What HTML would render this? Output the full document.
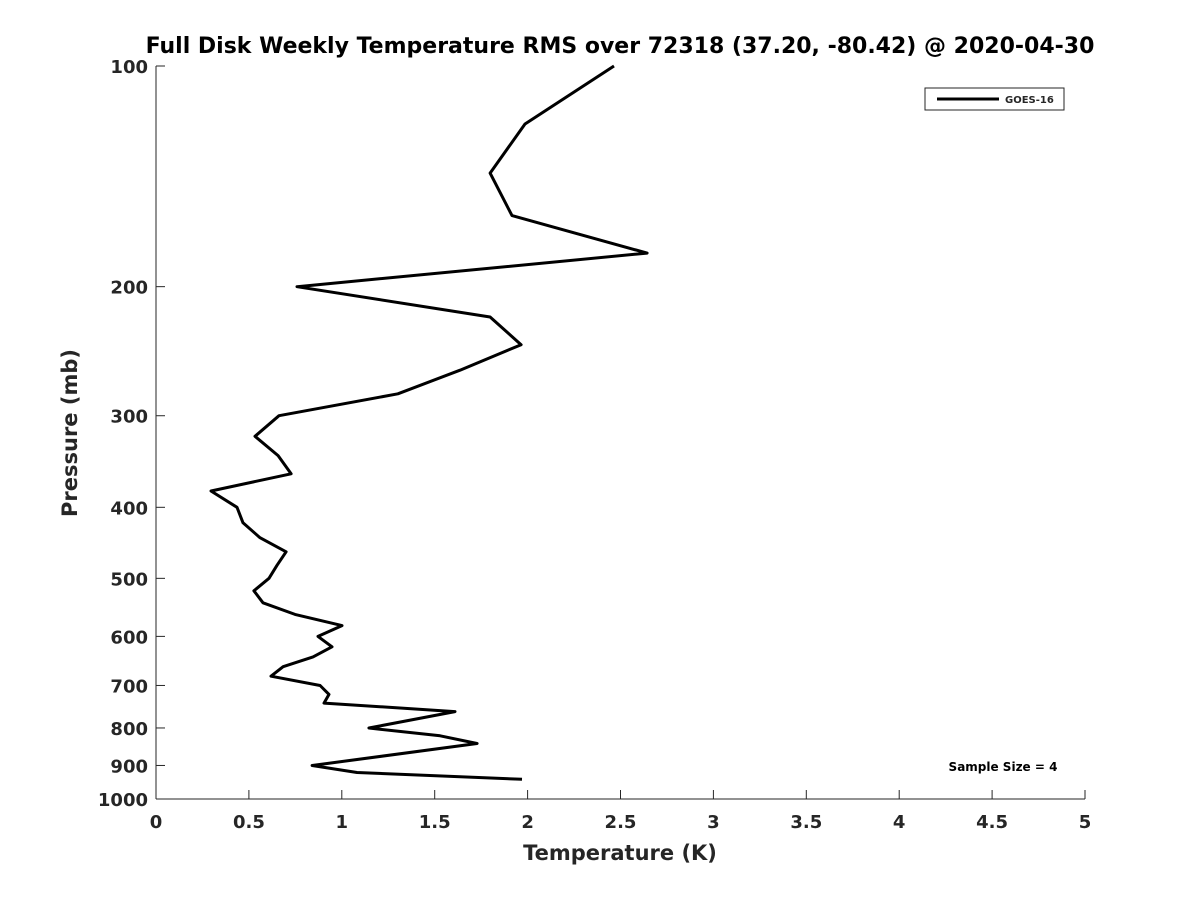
<!DOCTYPE html>
<html><head><meta charset="utf-8"><style>
body{margin:0;background:#fff;font-family:"Liberation Sans","DejaVu Sans",sans-serif}
svg text{font-family:"DejaVu Sans","Liberation Sans",sans-serif;font-weight:bold;fill:#262626}
</style></head><body>
<svg id="c" width="1200" height="900">
<rect width="1200" height="900" fill="#fff"/>
<text x="620" y="53" font-size="22" text-anchor="middle" fill="#000" style="fill:#000">Full Disk Weekly Temperature RMS over 72318 (37.20, -80.42) @ 2020-04-30</text>
<g id="axes"></g>
<path id="line" fill="none" stroke="#000" stroke-width="3" stroke-linejoin="round"/>
<g>
<rect x="925" y="88" width="139" height="22" fill="#fff" stroke="#262626" stroke-width="1"/>
<line x1="937" y1="99" x2="999" y2="99" stroke="#000" stroke-width="3"/>
<text x="1005" y="103" font-size="10">GOES-16</text>
</g>
<text x="1003" y="771" font-size="12" text-anchor="middle" fill="#000" style="fill:#000">Sample Size = 4</text>
<text x="620" y="860" font-size="21" text-anchor="middle">Temperature (K)</text>
<text transform="translate(77,433) rotate(-90)" font-size="21" text-anchor="middle">Pressure (mb)</text>
</svg>
<script>
const temps=[2.465,1.986,1.798,1.916,2.643,0.759,1.798,1.965,1.636,1.302,0.662,0.533,0.657,0.727,0.296,0.436,0.468,0.56,0.7,0.651,0.608,0.527,0.576,0.748,1.001,0.872,0.947,0.845,0.684,0.619,0.883,0.931,0.904,1.609,1.146,1.529,1.728,0.84,1.082,1.97];
const pressures=[100,120,140,160,180,200,220,240,260,280,300,320,340,360,380,400,420,440,460,480,500,520,540,560,580,600,620,640,660,680,700,720,740,760,800,820,840,900,920,940];
const xTicks=[0,0.5,1,1.5,2,2.5,3,3.5,4,4.5,5];
const yTicks=[100,200,300,400,500,600,700,800,900,1000];
const X0=156,X1=1085,Y0=66,Y1=799;
const xs=t=>X0+(t/5)*(X1-X0);
const ys=p=>Y0+Math.log10(p/100)*(Y1-Y0);
const NS="http://www.w3.org/2000/svg";
const ax=document.getElementById('axes');
function mk(tag,attrs,parent){const e=document.createElementNS(NS,tag);for(const k in attrs)e.setAttribute(k,attrs[k]);parent.appendChild(e);return e;}
const xl=mk('line',{x1:X0,y1:Y1,x2:X1,y2:Y1,stroke:'#262626','stroke-width':1},ax);


const yl=mk('line',{x1:X0,y1:Y0,x2:X0,y2:Y1,stroke:'#262626','stroke-width':1},ax);


xTicks.forEach(t=>{const x=xs(t);
mk('line',{x1:x,y1:Y1,x2:x,y2:Y1-9,stroke:'#262626'},ax);
const tx=mk('text',{x:x,y:Y1+29,'font-size':18,'text-anchor':'middle'},ax);tx.textContent=String(t);

});
yTicks.forEach(p=>{const y=ys(p);
mk('line',{x1:X0,y1:y,x2:X0+9,y2:y,stroke:'#262626'},ax);
const tx=mk('text',{x:X0-8,y:y+7,'font-size':18,'text-anchor':'end'},ax);tx.textContent=String(p);

});
document.getElementById('line').setAttribute('d',temps.map((t,i)=>(i?'L':'M')+xs(t).toFixed(1)+','+ys(pressures[i]).toFixed(1)).join(''));
</script>
</body></html>
